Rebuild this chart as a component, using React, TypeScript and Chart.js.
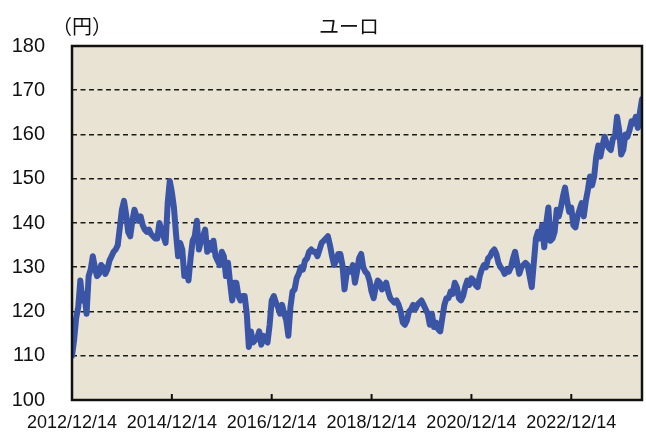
import React, { useEffect, useRef } from 'react';
import { Chart, registerables } from 'chart.js';

Chart.register(...registerables);

// Tick labels (x axis every 2 years from 2012/12/14)
const xTickLabels = ['2012/12/14', '2014/12/14', '2016/12/14', '2018/12/14', '2020/12/14', '2022/12/14'];
const yMin = 100;
const yMax = 180;
const yStep = 10;
const titleText = 'ユーロ';
const unitText = '（円）';

// EUR/JPY, semi-monthly readings starting 2012/12/14
const rates2013 = [110, 113.5, 118.5, 121, 127, 122.5, 124, 119.5, 128, 129.5, 132.5, 130, 128, 128.5, 130.5, 130, 128.5, 129.5, 131.5, 132.5, 133.5, 134, 135, 139];
const rates2014 = [143, 145, 142, 138, 137, 140.5, 143, 141.5, 140.5, 141.5, 139.5, 138.5, 138, 138.5, 137.5, 137, 136.5, 136.5, 140, 138.5, 137, 135.5, 144.5, 149.5];
const rates2015 = [147, 143.5, 137.5, 132.5, 135.5, 134, 128, 129.5, 127, 132, 136, 137, 140.5, 134, 136, 137, 138.5, 133.5, 135.5, 134, 136, 132.5, 131.5, 130.5];
const rates2016 = [133.5, 132.5, 128, 131, 126.5, 122.5, 126.5, 126.5, 123.5, 122.5, 123.5, 123.5, 119.5, 112, 115.5, 113, 113.5, 114, 115.5, 112.5, 114.5, 113.5, 113, 117];
const rates2017 = [122.5, 123.5, 122, 121, 119.5, 121.5, 119.5, 118, 114.5, 121, 124.5, 125, 127.5, 128.5, 130, 129.5, 131.5, 132, 133.5, 134, 133.5, 133.5, 132.5, 134];
const rates2018 = [135.5, 136, 136.5, 137, 135, 132.5, 130.5, 131.5, 133, 133, 130.5, 125, 128.5, 129.5, 129, 130.5, 126.5, 129, 132, 133, 130, 129, 128.5, 127];
const rates2019 = [124.5, 123, 125.5, 127, 126.5, 125, 125.5, 126.5, 124.5, 123, 122.5, 122, 122.5, 121.5, 120, 117.5, 117, 118, 120, 120.5, 121.5, 120.5, 121.5, 122];
const rates2020 = [122.5, 121.5, 120.5, 119.5, 117, 119.5, 116.5, 117.5, 116, 115.5, 118.5, 121.5, 123, 123, 124.5, 124, 126.5, 125.5, 123, 122.5, 123.5, 125.5, 127, 126];
const rates2021 = [127.5, 127, 126, 125.5, 128, 129.5, 130.5, 130, 132, 132.5, 133.5, 134, 133, 131, 130, 129.5, 128.5, 129.5, 129, 130, 132, 133.5, 131, 128.5];
const rates2022 = [130, 130.5, 131, 130.5, 128, 125.5, 131, 136.5, 138, 136.5, 139.5, 134.5, 140, 143.5, 136, 136.5, 138, 143, 141.5, 143.5, 146, 148, 145, 142.5];
const rates2023 = [143.5, 139.5, 139, 141.5, 143, 144.5, 141.5, 145, 147.5, 150.5, 148.5, 150.5, 155, 157.5, 155, 157.5, 159.5, 158, 157, 156.5, 159, 159.5, 164, 161];
const rates2024 = [155.5, 156.5, 160, 159.5, 161, 163, 162.5, 164, 161.5, 165, 168];

const rates = [
  ...rates2013, ...rates2014, ...rates2015, ...rates2016, ...rates2017, ...rates2018,
  ...rates2019, ...rates2020, ...rates2021, ...rates2022, ...rates2023, ...rates2024,
];
const periodsPerYear = 24;

const FONT = '"Liberation Sans", Arial, sans-serif';

export default function App() {
  const ref = useRef<HTMLCanvasElement | null>(null);

  useEffect(() => {
    document.body.style.margin = '0';
    const canvas = ref.current;
    if (!canvas) return;

    const points = rates.map((v, i) => ({ x: i / periodsPerYear, y: v }));
    const xMax = (rates.length - 1) / periodsPerYear;

    const decor = {
      id: 'decor',
      beforeDraw(chart: any) {
        const { ctx, chartArea } = chart;
        ctx.save();
        ctx.fillStyle = '#E8E3D3';
        ctx.fillRect(chartArea.left, chartArea.top, chartArea.right - chartArea.left, chartArea.bottom - chartArea.top);
        ctx.restore();
      },
      afterDraw(chart: any) {
        const { ctx, chartArea } = chart;
        const xs = chart.scales.x;
        ctx.save();
        // inner tick marks on bottom axis
        ctx.strokeStyle = '#111';
        ctx.lineWidth = 2;
        xs.ticks.forEach((t: any) => {
          const px = xs.getPixelForValue(t.value);
          ctx.beginPath();
          ctx.moveTo(px, chartArea.bottom);
          ctx.lineTo(px, chartArea.bottom - 6);
          ctx.stroke();
        });
        // frame
        ctx.lineWidth = 2.5;
        ctx.strokeStyle = '#111';
        ctx.strokeRect(chartArea.left, chartArea.top, chartArea.right - chartArea.left, chartArea.bottom - chartArea.top);
        // titles
        ctx.fillStyle = '#111';
        ctx.textBaseline = 'middle';
        ctx.textAlign = 'center';
        ctx.font = '20px "Noto Sans CJK JP", sans-serif';
        ctx.fillText(titleText, 349, 26);
        ctx.font = '20px "Noto Sans CJK JP", sans-serif';
        ctx.fillText(unitText, 82, 26);
        ctx.restore();
      },
    };

    const chart = new Chart(canvas, {
      type: 'line',
      data: {
        datasets: [
          {
            data: points,
            borderColor: '#3A55A6',
            borderWidth: 6,
            pointRadius: 0,
            tension: 0,
            borderJoinStyle: 'round',
            borderCapStyle: 'round',
            fill: false,
          },
        ],
      },
      options: {
        responsive: false,
        animation: false,
        devicePixelRatio: 1,
        layout: { padding: { top: 46, right: 4, bottom: 0, left: 0 } },
        plugins: { legend: { display: false }, tooltip: { enabled: false }, title: { display: false } },
        scales: {
          x: {
            type: 'linear',
            min: 0,
            max: xMax,
            afterBuildTicks: (s: any) => {
              s.ticks = xTickLabels.map((_, i) => ({ value: i * 2 }));
            },
            afterFit: (s: any) => {
              s.height = 31;
            },
            grid: { display: false, drawTicks: false },
            border: { display: false },
            ticks: {
              autoSkip: false,
              maxRotation: 0,
              padding: 12,
              color: '#111',
              font: { family: FONT, size: 18 },
              callback: (v: any) => {
                const idx = Math.round(Number(v) / 2);
                return xTickLabels[idx] ?? '';
              },
            },
          },
          y: {
            type: 'linear',
            min: yMin,
            max: yMax,
            afterFit: (s: any) => {
              s.width = 72;
            },
            grid: { color: '#1a1a1a', lineWidth: 1.6, drawTicks: false },
            border: { display: false, dash: [5, 3.5] },
            ticks: {
              stepSize: yStep,
              padding: 27,
              color: '#111',
              font: { family: FONT, size: 20 },
            },
          },
        },
      },
      plugins: [decor],
    } as any);

    return () => chart.destroy();
  }, []);

  return <canvas ref={ref} width={646} height={439} style={{ display: 'block', width: 646, height: 439 }} />;
}
